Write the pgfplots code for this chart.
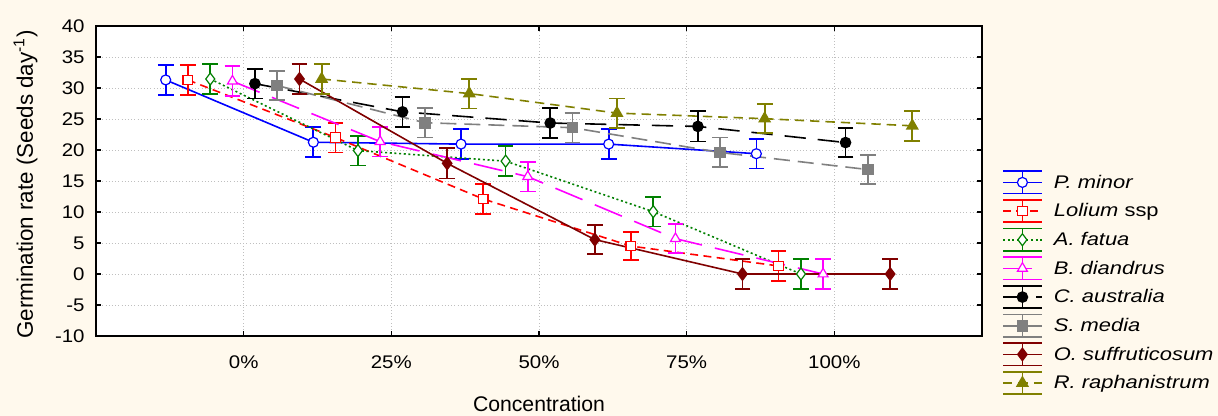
\documentclass[border=0pt]{standalone}
\usepackage{fontspec}
\setmainfont{Liberation Sans}
\newfontfamily\widefont[FakeStretch=1.12]{Liberation Sans}
\newfontfamily\legfont[FakeStretch=1.2]{Liberation Sans}
\usepackage{pgfplots}
\pgfplotsset{compat=1.18}

\definecolor{bgcream}{RGB}{255,249,237}
\definecolor{sgreen}{RGB}{0,128,0}
\definecolor{sgray}{RGB}{128,128,128}
\definecolor{sdarkred}{RGB}{128,0,0}
\definecolor{solive}{RGB}{128,128,0}
\definecolor{smagenta}{RGB}{255,0,255}

\begin{document}
\begin{tikzpicture}
\fill[bgcream] (-72pt,-60pt) rectangle (841.5pt,252pt);
\useasboundingbox (-72pt,-60pt) rectangle (841.5pt,252pt);
\begin{axis}[
  scale only axis, width=664.5pt, height=232.5pt,
  axis background/.style={fill=white},
  xmin=-25, xmax=125, ymin=-10, ymax=40,
  xtick={0,25,50,75,100}, xticklabels={0\%,25\%,50\%,75\%,100\%},
  ytick={-10,-5,...,40},
  tick align=inside, major tick length=4pt,
  axis line style={line width=1.3pt},
  tick style={black, line width=1pt},
  grid=major, grid style={dotted, gray!50, line width=0.6pt},
  /pgf/number format/assume math mode=true,
  tick label style={font=\fontsize{13.7}{16}\widefont},
  xticklabel style={yshift=-11pt},
  yticklabel style={xshift=-5pt},
  xlabel={Concentration},
  xlabel style={font=\fontsize{15.9}{19}\selectfont,
    at={(axis description cs:0.5,0)}, anchor=base, yshift=-57pt},
  ylabel={Germination rate (Seeds day\textsuperscript{-1})},
  ylabel style={font=\fontsize{16.8}{20}\selectfont,
    at={([xshift=-47.4pt,yshift=-2.6pt]axis description cs:0,0.5)}, anchor=base},
  error bars/y dir=both, error bars/y explicit,
  error bars/error bar style={solid, line width=1.3pt},
  error bars/error mark options={rotate=90, mark size=5.9pt, line width=1.3pt, solid},
  legend cell align=left,
  legend style={at={(axis description cs:1.0226,0.535)}, anchor=north west,
    draw=none, fill=none, font=\fontsize{13.7}{16}\legfont,
    row sep=3.5pt, column sep=8.5pt, inner sep=0pt, nodes={inner sep=0pt}},
  legend image code/.code={
    \draw[#1,solid] (0pt,8.4pt) -- (29pt,8.4pt);
    \draw[#1,solid] (0pt,-8.4pt) -- (29pt,-8.4pt);
    \draw[#1,solid] (14.5pt,-8.4pt) -- (14.5pt,8.4pt);
    \draw[#1,mark repeat=2,mark phase=2] plot coordinates {(0pt,0pt) (14.5pt,0pt) (29pt,0pt)};
  },
]

% P. minor
\addplot[blue, line width=1.2pt, mark=*, mark size=3.75pt,
  mark options={solid, fill=white, line width=0.9pt}]
  table[y error=e] {
x y e
-13.2 31.3 2.4
11.8 21.25 2.4
36.8 20.95 2.4
61.8 20.95 2.4
86.8 19.4 2.4
};
\addlegendentry{\textit{P. minor}}

% Lolium ssp
\addplot[red, line width=1.2pt, dash pattern=on 6pt off 4pt, mark=square*, mark size=3.6pt,
  mark options={solid, fill=white, line width=0.9pt}]
  table[y error=e] {
x y e
-9.45 31.3 2.4
15.55 22.0 2.4
40.55 12.1 2.4
65.55 4.5 2.3
90.55 1.3 2.4
};
\addlegendentry{\textit{Lolium} ssp}

% A. fatua
\addplot[sgreen, line width=1.2pt, dash pattern=on 1.5pt off 2pt, mark=diamond*, mark size=4.5pt,
  mark options={solid, fill=white, line width=0.9pt}]
  table[y error=e] {
x y e
-5.65 31.45 2.4
19.35 19.9 2.4
44.35 18.2 2.4
69.35 10.05 2.4
94.35 0.0 2.4
};
\addlegendentry{\textit{A. fatua}}

% B. diandrus
\addplot[smagenta, line width=1.2pt, dash pattern=on 22pt off 10pt, mark=triangle*, mark size=4.3pt,
  mark options={solid, fill=white, line width=0.9pt}]
  table[y error=e] {
x y e
-1.9 31.1 2.4
23.1 21.35 2.4
48.1 15.7 2.4
73.1 5.7 2.35
98.1 0.0 2.4
};
\addlegendentry{\textit{B. diandrus}}

% C. australia
\addplot[black, line width=1.2pt, dash pattern=on 16pt off 9pt, mark=*, mark size=3.75pt,
  mark options={solid, fill=black}]
  table[y error=e] {
x y e
1.9 30.7 2.4
26.9 26.15 2.4
51.9 24.35 2.4
76.9 23.8 2.45
101.9 21.2 2.35
};
\addlegendentry{\textit{C. australia}}

% S. media
\addplot[sgray, line width=1.2pt, dash pattern=on 12pt off 6pt, mark=square*, mark size=3.75pt,
  mark options={solid, fill=sgray}]
  table[y error=e] {
x y e
5.65 30.4 2.3
30.65 24.4 2.4
55.65 23.6 2.4
80.65 19.6 2.4
105.65 16.85 2.35
};
\addlegendentry{\textit{S. media}}

% O. suffruticosum
\addplot[sdarkred, line width=1.2pt, mark=diamond*, mark size=4.5pt,
  mark options={solid, fill=sdarkred}]
  table[y error=e] {
x y e
9.45 31.45 2.45
34.45 17.85 2.45
59.45 5.55 2.35
84.45 0.0 2.4
109.45 0.0 2.4
};
\addlegendentry{\textit{O. suffruticosum}}

% R. raphanistrum
\addplot[solive, line width=1.2pt, dash pattern=on 7pt off 4.5pt, mark=triangle*, mark size=4.5pt,
  mark options={solid, fill=solive}]
  table[y error=e] {
x y e
13.2 31.45 2.45
38.2 29.1 2.4
63.2 25.95 2.35
88.2 25.05 2.35
113.2 23.9 2.4
};
\addlegendentry{\textit{R. raphanistrum}}

\end{axis}
\end{tikzpicture}
\end{document}
